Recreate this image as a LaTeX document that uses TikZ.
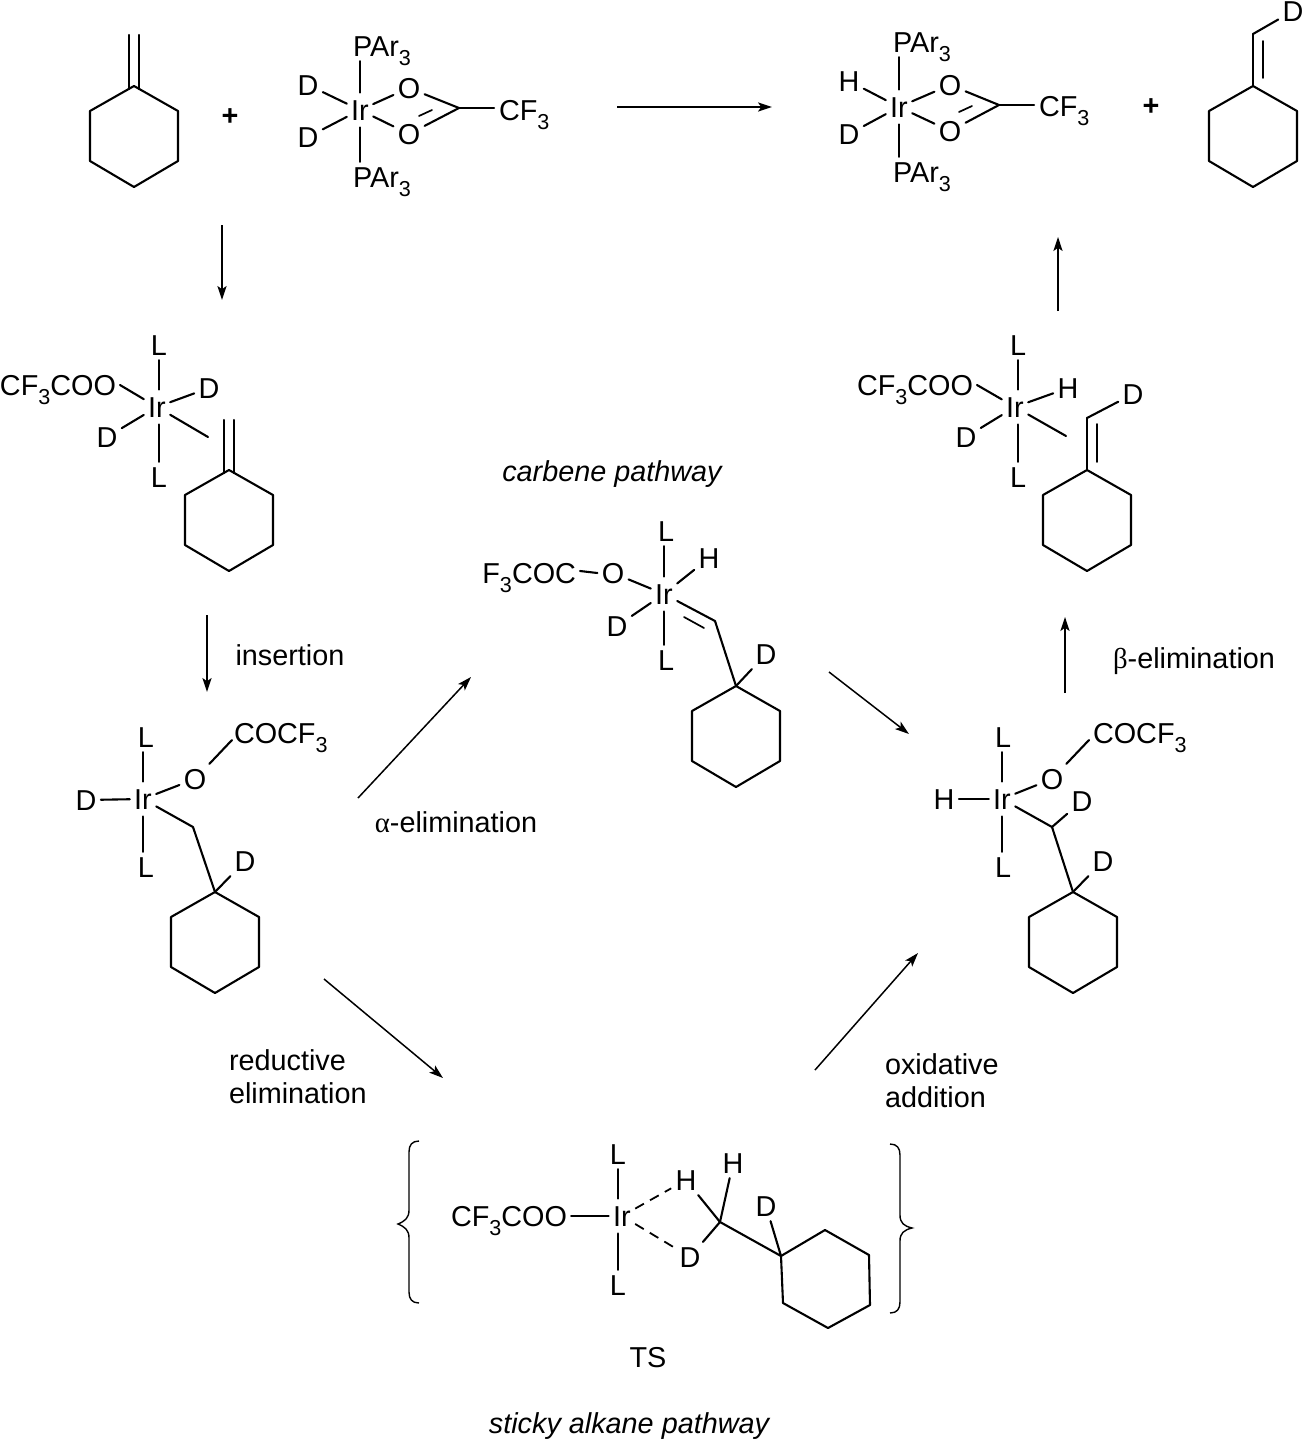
\documentclass[tikz,border=0pt]{standalone}
\usepackage{fontspec}
\setmainfont{Liberation Sans}
\usetikzlibrary{arrows.meta}
\newfontfamily\grk{Liberation Serif}
\newcommand{\lowsub}[1]{\raisebox{-0.32em}{\fontsize{10.8}{10.8}\selectfont #1}}
\tikzset{
  x=0.5pt,y=-0.5pt,
  atom/.style={inner xsep=2.2pt,inner ysep=2.4pt,outer sep=0pt,font=\fontsize{14.4}{16.6}\selectfont,text height=10.3pt,text depth=0pt},
  metal/.style={atom,inner ysep=3.6pt},
  lbl/.style={inner sep=0pt,outer sep=0pt,font=\fontsize{14.4}{16.6}\selectfont},
  ital/.style={lbl,font=\fontsize{14.4}{16.6}\selectfont\itshape},
  bond/.style={line width=1.05pt,line cap=round,line join=round},
  thin bond/.style={line width=0.85pt,line cap=round},
  rxn/.style={line width=0.75pt,-{Stealth[length=7pt,width=4.6pt,inset=1.6pt]}},
  brace line/.style={line width=0.7pt},
  ts dash/.style={line width=0.9pt,dash pattern=on 5pt off 3.5pt},
}
\newcommand{\hexring}[3]{%
  \coordinate (#1) at (#2,#3);
  \draw[bond] (#1) -- ++(44,25) -- ++(0,50) -- ++(-44,26) -- ++(-44,-26) -- ++(0,-50) -- cycle;}
\begin{document}
\begin{tikzpicture}
\useasboundingbox (0,0) rectangle (1304,1440);

% ---- top left alkene
\hexring{hA}{134}{86}
\coordinate (a1) at (129,35); \coordinate (a1b) at (129,89);
\coordinate (a2) at (139,35); \coordinate (a2b) at (139,89);
\draw[bond] (a1) -- (a1b); \draw[bond] (a2) -- (a2b);
\node[atom] (plusA) at (230,115) {\textbf{+}};

% ---- complex 1
\node[metal] (Ir1) at (360,110) {Ir};
\node[atom] (P1a) at (382,46) {PAr\lowsub{3}};
\node[atom] (P1b) at (382,177) {PAr\lowsub{3}};
\node[atom] (D1a) at (308,85) {D};
\node[atom] (D1b) at (308,137) {D};
\node[atom] (O1a) at (409,88) {O};
\node[atom] (O1b) at (409,134) {O};
\coordinate (C1) at (459,108);
\node[atom,anchor=west,inner xsep=0pt] (F1) at (499,110) {CF\lowsub{3}};
\draw[bond] (Ir1.north) -- (Ir1 |- P1a.south);
\draw[bond] (Ir1.south) -- (Ir1 |- P1b.north);
\draw[bond] (Ir1) -- (D1a); \draw[bond] (Ir1) -- (D1b);
\draw[bond] (Ir1) -- (O1a); \draw[bond] (Ir1) -- (O1b);
\draw[bond] (O1a) -- (C1); \draw[bond] (O1b) -- (C1);
\draw[bond] (C1) -- (494,108);
\draw[thin bond] (419,116) -- (432,110);

% ---- top arrow
\coordinate (s1) at (617,107); \coordinate (e1) at (772,107);
\draw[rxn] (s1) -- (e1);

% ---- complex 2
\node[metal] (Ir2) at (899,107) {Ir};
\node[atom] (P2a) at (922,42) {PAr\lowsub{3}};
\node[atom] (P2b) at (922,172) {PAr\lowsub{3}};
\node[atom] (H2) at (849,81) {H};
\node[atom] (D2) at (849,134) {D};
\node[atom] (O2a) at (950,85) {O};
\node[atom] (O2b) at (950,131) {O};
\coordinate (C2) at (999,105);
\node[atom,anchor=west,inner xsep=0pt] (F2) at (1039,106) {CF\lowsub{3}};
\draw[bond] (Ir2.north) -- (Ir2 |- P2a.south);
\draw[bond] (Ir2.south) -- (Ir2 |- P2b.north);
\draw[bond] (Ir2) -- (H2); \draw[bond] (Ir2) -- (D2);
\draw[bond] (Ir2) -- (O2a); \draw[bond] (Ir2) -- (O2b);
\draw[bond] (O2a) -- (C2); \draw[bond] (O2b) -- (C2);
\draw[bond] (C2) -- (1034,105);
\draw[thin bond] (959,112) -- (972,106);
\node[atom] (plusB) at (1151,105) {\textbf{+}};

% ---- top right alkene
\hexring{hB}{1253}{86}
\coordinate (vB) at (1253,34);
\node[atom] (DB) at (1293,11) {D};
\draw[bond] (hB) -- (vB); \draw[bond] (vB) -- (DB);
\draw[thin bond] (1263,41) -- (1263,78);

% ---- side arrows top
\coordinate (s2) at (222,225); \coordinate (e2) at (222,300);
\draw[rxn] (s2) -- (e2);
\coordinate (s3) at (1058,311); \coordinate (e3) at (1058,237);
\draw[rxn] (s3) -- (e3);

% ---- complex 3 (left)
\node[metal] (Ir3) at (157,407) {Ir};
\node[atom] (L3a) at (159,345) {L};
\node[atom] (L3b) at (159,477) {L};
\node[atom,anchor=east,inner xsep=2pt] (F3) at (120,385) {CF\lowsub{3}COO};
\node[atom] (D3a) at (209,388) {D};
\node[atom] (D3b) at (107,437) {D};
\draw[bond] (Ir3.north -| L3a) -- (L3a.south);
\draw[bond] (Ir3.south -| L3b) -- (L3b.north);
\draw[bond] (F3.east) -- (Ir3);
\draw[bond] (Ir3) -- (D3a); \draw[bond] (Ir3) -- (D3b);
\coordinate (pi3) at (208,437);
\draw[bond] (Ir3) -- (pi3);
\hexring{hC}{229}{470}
\draw[bond] (224,420) -- (224,473); \draw[bond] (234,420) -- (234,473);

% ---- complex 3' (right)
\node[metal] (Ir6) at (1015,407) {Ir};
\node[atom] (L6a) at (1018,345) {L};
\node[atom] (L6b) at (1018,477) {L};
\node[atom,anchor=east,inner xsep=2pt] (F6) at (977,385) {CF\lowsub{3}COO};
\node[atom] (H6) at (1068,388) {H};
\node[atom] (D6a) at (966,437) {D};
\node[atom] (D6b) at (1133,394) {D};
\draw[bond] (Ir6.north -| L6a) -- (L6a.south);
\draw[bond] (Ir6.south -| L6b) -- (L6b.north);
\draw[bond] (F6.east) -- (Ir6);
\draw[bond] (Ir6) -- (H6); \draw[bond] (Ir6) -- (D6a);
\coordinate (pi6) at (1066,436);
\draw[bond] (Ir6) -- (pi6);
\hexring{hF}{1087}{470}
\coordinate (v6) at (1087,418);
\draw[bond] (hF) -- (v6); \draw[bond] (v6) -- (D6b);
\draw[thin bond] (1097,424) -- (1097,462);

% ---- insertion / beta
\coordinate (s4) at (207,615); \coordinate (e4) at (207,692);
\draw[rxn] (s4) -- (e4);
\node[lbl] (tIns) at (290,655) {insertion};
\coordinate (s5) at (1065,693); \coordinate (e5) at (1065,617);
\draw[rxn] (s5) -- (e5);
\node[lbl] (tBeta) at (1194,661) {{\grk β}-elimination};

% ---- complex 4 (left)
\node[metal] (Ir4) at (143,799) {Ir};
\node[atom] (L4a) at (146,737) {L};
\node[atom] (L4b) at (146,867) {L};
\node[atom] (D4) at (86,800) {D};
\node[atom] (O4) at (195,779) {O};
\node[atom,anchor=west,inner xsep=0pt] (F4) at (234,733) {COCF\lowsub{3}};
\node[atom] (D4b) at (245,861) {D};
\coordinate (C4) at (193,827);
\coordinate (F4e) at (232,740);
\draw[bond] (Ir4.north) -- (Ir4 |- L4a.south);
\draw[bond] (Ir4.south) -- (Ir4 |- L4b.north);
\draw[bond] (Ir4) -- (D4); \draw[bond] (Ir4) -- (O4);
\draw[bond] (O4) -- (F4e);
\draw[bond] (Ir4) -- (C4);
\hexring{hD}{215}{892}
\draw[bond] (C4) -- (hD); \draw[bond] (hD) -- (D4b);

% ---- complex 5 (right)
\node[metal] (Ir7) at (1002,799) {Ir};
\node[atom] (L7a) at (1003,737) {L};
\node[atom] (L7b) at (1003,867) {L};
\node[atom] (H7) at (944,799) {H};
\node[atom] (O7) at (1052,779) {O};
\node[atom,anchor=west,inner xsep=0pt] (F7) at (1093,733) {COCF\lowsub{3}};
\node[atom] (D7a) at (1082,801) {D};
\node[atom] (D7b) at (1103,861) {D};
\coordinate (C7) at (1052,827);
\coordinate (F7e) at (1089,740);
\draw[bond] (Ir7.north) -- (Ir7 |- L7a.south);
\draw[bond] (Ir7.south) -- (Ir7 |- L7b.north);
\draw[bond] (Ir7) -- (H7); \draw[bond] (Ir7) -- (O7);
\draw[bond] (O7) -- (F7e);
\draw[bond] (Ir7) -- (C7); \draw[bond] (C7) -- (D7a);
\hexring{hG}{1073}{892}
\draw[bond] (C7) -- (hG); \draw[bond] (hG) -- (D7b);

% ---- carbene complex
\node[ital] (tCarb) at (612,474) {carbene pathway};
\node[metal] (Ir5) at (664,594) {Ir};
\node[atom] (L5a) at (666,531) {L};
\node[atom] (L5b) at (666,660) {L};
\node[atom] (H5) at (709,558) {H};
\node[atom] (D5a) at (617,626) {D};
\node[atom] (O5) at (613,573) {O};
\node[atom,anchor=east,inner xsep=0pt] (F5) at (576,573) {F\lowsub{3}COC};
\node[atom] (D5b) at (766,654) {D};
\coordinate (C5) at (715,621);
\draw[bond] (Ir5.north) -- (Ir5 |- L5a.south);
\draw[bond] (Ir5.south) -- (Ir5 |- L5b.north);
\draw[bond] (F5.east) ++(4,-2) -- (O5.west);
\draw[bond] (O5) -- (Ir5); \draw[bond] (Ir5) -- (H5); \draw[bond] (Ir5) -- (D5a);
\draw[bond] (Ir5) -- (C5);
\draw[thin bond] (684,617) -- (704,628);
\hexring{hE}{736}{686}
\draw[bond] (C5) -- (hE); \draw[bond] (hE) -- (D5b);

% ---- cycle arrows
\coordinate (s6) at (358,798); \coordinate (e6) at (471,677);
\draw[rxn] (s6) -- (e6);
\node[lbl] (tAlpha) at (456,822) {{\grk α}-elimination};
\coordinate (s7) at (829,672); \coordinate (e7) at (909,734);
\draw[rxn] (s7) -- (e7);
\coordinate (s8) at (324,979); \coordinate (e8) at (443,1078);
\draw[rxn] (s8) -- (e8);
\node[lbl,align=left,anchor=west] (tRed) at (229,1077) {reductive\\elimination};
\coordinate (s9) at (815,1070); \coordinate (e9) at (918,953);
\draw[rxn] (s9) -- (e9);
\node[lbl,align=left,anchor=west] (tOx) at (885,1081) {oxidative\\addition};

% ---- TS
\node[metal] (Ir8) at (622,1216) {Ir};
\node[atom] (L8a) at (618,1154) {L};
\node[atom] (L8b) at (618,1285) {L};
\node[atom,anchor=east,inner xsep=2pt] (F8) at (571,1216) {CF\lowsub{3}COO};
\node[atom] (H8a) at (686,1180) {H};
\node[atom] (H8b) at (733,1163) {H};
\node[atom] (D8a) at (690,1257) {D};
\node[atom] (D8b) at (766,1206) {D};
\coordinate (C8) at (720,1222);
\draw[bond] (Ir8.north -| L8a) -- (L8a.south);
\draw[bond] (Ir8.south -| L8b) -- (L8b.north);
\draw[thin bond] (F8.east) -- (Ir8.west);
\draw[ts dash] (Ir8) -- (H8a);
\draw[ts dash] (Ir8) -- (D8a);
\draw[bond] (H8a) -- (C8); \draw[bond] (H8b) -- (C8); \draw[bond] (D8a) -- (C8);
\coordinate (hH) at (781,1256);
\draw[bond] (C8) -- (hH);
\draw[bond] (hH) -- (825,1230) -- (869,1255) -- (870,1305) -- (828,1328) -- (783,1303) -- cycle;
\draw[bond] (hH) -- (D8b);
% braces
\draw[brace line] (419,1141) .. controls (412,1141) and (409,1145) .. (409,1152)
  -- (409,1210) .. controls (409,1218) and (405,1221) .. (398,1224)
  .. controls (405,1227) and (409,1230) .. (409,1238) -- (409,1292)
  .. controls (409,1299) and (412,1303) .. (419,1303);
\draw[brace line] (890,1144) .. controls (897,1144) and (900,1148) .. (900,1155)
  -- (900,1215) .. controls (900,1223) and (904,1226) .. (912,1228)
  .. controls (904,1230) and (900,1233) .. (900,1241) -- (900,1302)
  .. controls (900,1309) and (897,1313) .. (890,1313);
\node[lbl] (tTS) at (648,1358) {TS};
\node[ital] (tSticky) at (629,1426) {sticky alkane pathway};
\end{tikzpicture}
\end{document}
